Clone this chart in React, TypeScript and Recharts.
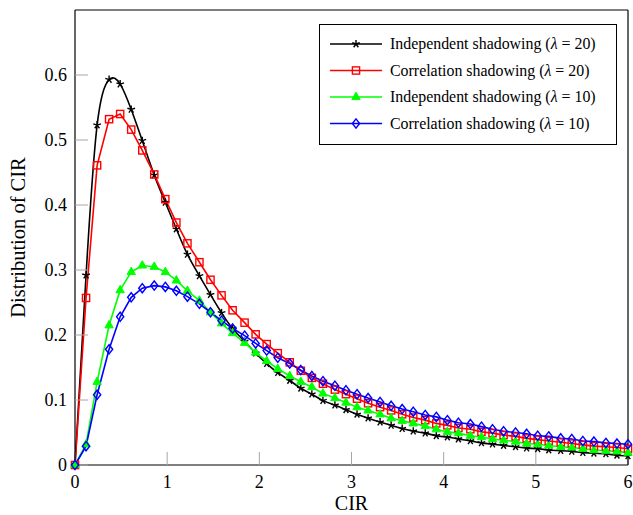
import React from "react";
import { LineChart, Line, XAxis, YAxis } from "recharts";

// CIR sample points (50 points on [0, 6])
const cir = [
  0, 0.12, 0.24, 0.37, 0.49, 0.61, 0.73, 0.86, 0.98, 1.1, 1.22, 1.35, 1.47,
  1.59, 1.71, 1.84, 1.96, 2.08, 2.2, 2.33, 2.45, 2.57, 2.69, 2.82, 2.94, 3.06,
  3.18, 3.31, 3.43, 3.55, 3.67, 3.8, 3.92, 4.04, 4.16, 4.29, 4.41, 4.53, 4.65,
  4.78, 4.9, 5.02, 5.14, 5.27, 5.39, 5.51, 5.63, 5.76, 5.88, 6,
];

const indep20 = [
  0, 0.292, 0.523, 0.593, 0.586, 0.547, 0.499, 0.446, 0.404, 0.363, 0.324,
  0.291, 0.262, 0.234, 0.21, 0.19, 0.172, 0.156, 0.142, 0.13, 0.118, 0.109,
  0.099, 0.092, 0.085, 0.078, 0.072, 0.066, 0.061, 0.056, 0.052, 0.049, 0.045,
  0.043, 0.04, 0.037, 0.034, 0.032, 0.03, 0.028, 0.026, 0.025, 0.023, 0.022,
  0.021, 0.019, 0.018, 0.017, 0.015, 0.014,
];

const corr20 = [
  0, 0.257, 0.461, 0.532, 0.54, 0.516, 0.484, 0.447, 0.409, 0.373, 0.341,
  0.312, 0.285, 0.261, 0.238, 0.219, 0.201, 0.186, 0.172, 0.158, 0.145, 0.134,
  0.125, 0.116, 0.109, 0.102, 0.095, 0.089, 0.084, 0.078, 0.073, 0.069, 0.064,
  0.061, 0.057, 0.055, 0.051, 0.049, 0.046, 0.044, 0.041, 0.039, 0.037, 0.035,
  0.033, 0.031, 0.029, 0.028, 0.027, 0.025,
];

const indep10 = [
  0, 0.032, 0.128, 0.215, 0.269, 0.297, 0.307, 0.305, 0.297, 0.284, 0.268,
  0.253, 0.235, 0.218, 0.203, 0.188, 0.173, 0.16, 0.148, 0.137, 0.128, 0.12,
  0.11, 0.103, 0.096, 0.089, 0.084, 0.078, 0.072, 0.068, 0.064, 0.06, 0.055,
  0.051, 0.049, 0.045, 0.043, 0.04, 0.038, 0.036, 0.033, 0.032, 0.03, 0.028,
  0.027, 0.025, 0.023, 0.022, 0.021, 0.019,
];

const corr10 = [
  0, 0.029, 0.108, 0.178, 0.228, 0.258, 0.272, 0.276, 0.274, 0.268, 0.259,
  0.248, 0.235, 0.222, 0.21, 0.199, 0.187, 0.176, 0.165, 0.156, 0.146, 0.137,
  0.129, 0.122, 0.115, 0.109, 0.103, 0.097, 0.091, 0.086, 0.082, 0.077, 0.074,
  0.069, 0.065, 0.063, 0.059, 0.055, 0.052, 0.05, 0.048, 0.045, 0.044, 0.041,
  0.04, 0.037, 0.036, 0.034, 0.033, 0.032,
];

const xTicks = [0, 1, 2, 3, 4, 5, 6];
const yTicks = [0, 0.1, 0.2, 0.3, 0.4, 0.5, 0.6];

const legendLabels = [
  ["Independent shadowing (", " = 20)"],
  ["Correlation shadowing (", " = 20)"],
  ["Independent shadowing (", " = 10)"],
  ["Correlation shadowing (", " = 10)"],
];

const data = cir.map((x, i) => ({
  x,
  indep20: indep20[i],
  corr20: corr20[i],
  indep10: indep10[i],
  corr10: corr10[i],
}));

const FONT = '"Liberation Serif", "DejaVu Serif", serif';
const TICK_GRAY = "#a6a6a6";

// markers, roughly like pgfplots star / square / triangle* / diamond
const Star = ({ cx, cy }: any) => {
  const r = 4;
  return (
    <g>
      {[0, 1, 2, 3, 4].map((k) => {
        const a = ((-90 + 72 * k) * Math.PI) / 180;
        return (
          <line
            key={k}
            x1={cx}
            y1={cy}
            x2={cx + r * Math.cos(a)}
            y2={cy + r * Math.sin(a)}
            stroke="#000"
            strokeWidth={1.4}
          />
        );
      })}
    </g>
  );
};

const Square = ({ cx, cy }: any) => (
  <rect
    x={cx - 3.6}
    y={cy - 3.6}
    width={7.2}
    height={7.2}
    fill="none"
    stroke="#ff0000"
    strokeWidth={1.4}
  />
);

const Triangle = ({ cx, cy }: any) => (
  <polygon
    points={`${cx},${cy - 4.8} ${cx - 4.2},${cy + 2.6} ${cx + 4.2},${cy + 2.6}`}
    fill="#00ff00"
    stroke="#00ff00"
    strokeWidth={1}
  />
);

const Diamond = ({ cx, cy }: any) => (
  <polygon
    points={`${cx},${cy - 4.6} ${cx + 3.6},${cy} ${cx},${cy + 4.6} ${cx - 3.6},${cy}`}
    fill="none"
    stroke="#0000ff"
    strokeWidth={1.4}
  />
);

const seriesMarks = [
  { color: "#000000", Mark: Star },
  { color: "#ff0000", Mark: Square },
  { color: "#00ff00", Mark: Triangle },
  { color: "#0000ff", Mark: Diamond },
];

const LegendBox = () => (
  <svg
    width={298}
    height={121}
    style={{ position: "absolute", left: 319, top: 24 }}
  >
    <rect x={0.5} y={0.5} width={297} height={120} fill="#fff" stroke="#000" />
    {legendLabels.map(([a, b], i) => {
      const cy = 20 + i * 26.5;
      const { color, Mark } = seriesMarks[i];
      return (
        <g key={i}>
          <line x1={11} x2={63} y1={cy} y2={cy} stroke={color} strokeWidth={1.6} />
          <Mark cx={37} cy={cy} />
          <text x={71} y={cy + 5} fontFamily={FONT} fontSize={15.9} fill="#000">
            {a}
            <tspan fontStyle="italic">λ</tspan>
            {b}
          </text>
        </g>
      );
    })}
  </svg>
);

const App = () => {
  const tickStyle = { fontFamily: FONT, fontSize: 18, fill: "#000" };
  const axisLine = { stroke: "#000", strokeWidth: 1.2 };
  return (
    <div style={{ position: "absolute", left: 0, top: 0, width: 633, height: 515, background: "#fff" }}>
      <LineChart
        width={633}
        height={515}
        data={data}
        margin={{ top: 0, right: 0, bottom: 0, left: 0 }}
      >
        <XAxis
          dataKey="x"
          type="number"
          domain={[0, 6]}
          ticks={xTicks}
          height={50}
          tickSize={-13}
          tickMargin={23}
          tickLine={{ stroke: TICK_GRAY }}
          axisLine={axisLine}
          tick={tickStyle}
          label={{
            value: "CIR",
            position: "insideBottom",
            offset: 5,
            fontFamily: FONT,
            fontSize: 20,
            fill: "#000",
          }}
        />
        <XAxis
          xAxisId="top"
          orientation="top"
          dataKey="x"
          type="number"
          domain={[0, 6]}
          ticks={xTicks}
          height={10}
          tickSize={-13}
          tick={false}
          tickLine={{ stroke: TICK_GRAY }}
          axisLine={axisLine}
        />
        <YAxis
          type="number"
          domain={[0, 0.7]}
          ticks={yTicks}
          width={75}
          tickSize={-13}
          tickMargin={21}
          tickLine={{ stroke: TICK_GRAY }}
          axisLine={axisLine}
          tick={tickStyle}
          label={{
            value: "Distribution of CIR",
            angle: -90,
            position: "insideLeft",
            offset: 18,
            fontFamily: FONT,
            fontSize: 20.5,
            fill: "#000",
            style: { textAnchor: "middle" },
          }}
        />
        <YAxis
          yAxisId="right"
          orientation="right"
          type="number"
          domain={[0, 0.7]}
          ticks={yTicks}
          width={5}
          tickSize={-13}
          tick={false}
          tickLine={{ stroke: TICK_GRAY }}
          axisLine={axisLine}
        />
        <Line
          dataKey="indep20"
          type="natural"
          stroke="#000000"
          strokeWidth={1.6}
          dot={(p: any) => <Star key={`s-${p.index}`} cx={p.cx} cy={p.cy} />}
          isAnimationActive={false}
        />
        <Line
          dataKey="corr20"
          type="linear"
          stroke="#ff0000"
          strokeWidth={1.6}
          dot={(p: any) => <Square key={`q-${p.index}`} cx={p.cx} cy={p.cy} />}
          isAnimationActive={false}
        />
        <Line
          dataKey="indep10"
          type="linear"
          stroke="#00ff00"
          strokeWidth={1.6}
          dot={(p: any) => <Triangle key={`t-${p.index}`} cx={p.cx} cy={p.cy} />}
          isAnimationActive={false}
        />
        <Line
          dataKey="corr10"
          type="linear"
          stroke="#0000ff"
          strokeWidth={1.6}
          dot={(p: any) => <Diamond key={`d-${p.index}`} cx={p.cx} cy={p.cy} />}
          isAnimationActive={false}
        />
      </LineChart>
      <LegendBox />
    </div>
  );
};

export default App;
